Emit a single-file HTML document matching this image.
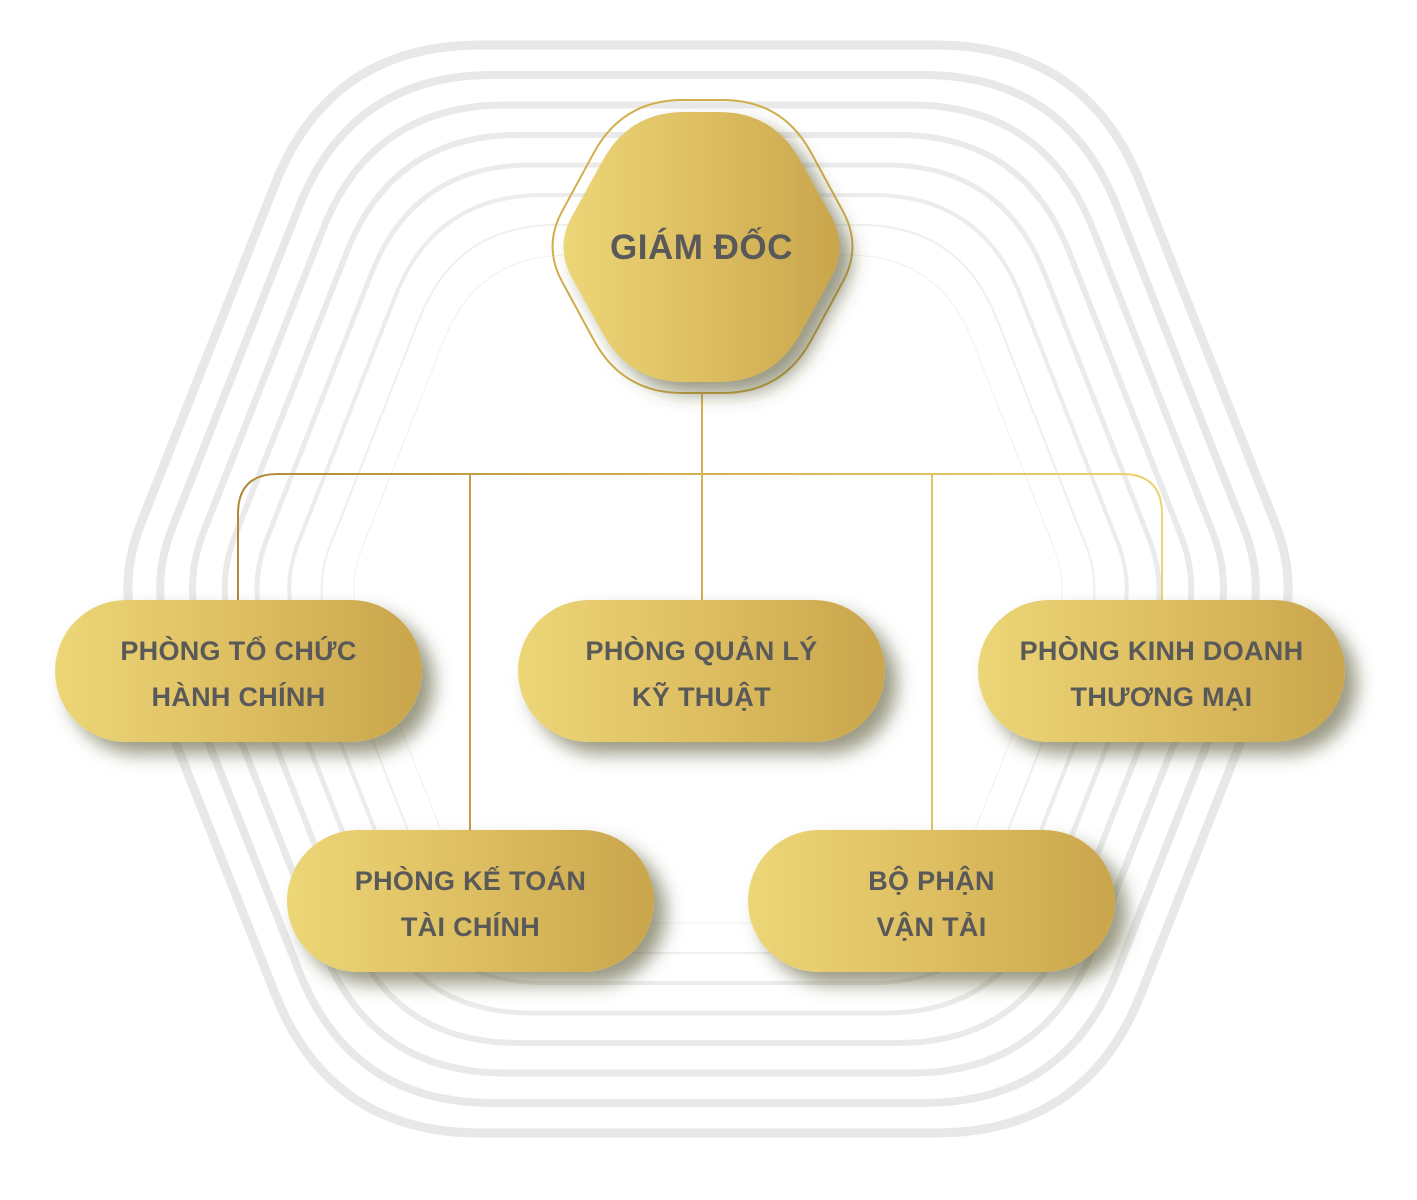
<!DOCTYPE html>
<html><head><meta charset="utf-8"><style>
html,body{margin:0;padding:0;background:#fff;}
body{width:1417px;height:1200px;position:relative;overflow:hidden;font-family:"Liberation Sans",sans-serif;}
svg{position:absolute;left:0;top:0;}
.pill{position:absolute;width:367px;height:142px;border-radius:71px;background:linear-gradient(90deg,#ecd677,#dcbc5f 55%,#c9a54c);box-shadow:12px 12px 18px rgba(70,70,30,0.55);display:flex;align-items:center;justify-content:center;text-align:center;color:#595959;font-weight:bold;font-size:27px;line-height:46px;letter-spacing:0.3px;padding-top:6px;box-sizing:border-box;}
.lbl{position:absolute;left:555px;width:293px;top:228px;text-align:center;color:#595959;font-weight:bold;font-size:35px;letter-spacing:0.5px;}
</style></head><body>
<svg id="s" width="1417" height="1200" viewBox="0 0 1417 1200">
<defs>
<linearGradient id="g" x1="0" x2="1" y1="0" y2="0"><stop offset="0" stop-color="#ecd677"/><stop offset="0.55" stop-color="#dcbc5f"/><stop offset="1" stop-color="#c9a54c"/></linearGradient>
<linearGradient id="lg" gradientUnits="userSpaceOnUse" x1="238" x2="1162" y1="0" y2="0"><stop offset="0" stop-color="#b08a3a"/><stop offset="0.5" stop-color="#d3b24f"/><stop offset="1" stop-color="#ecd46f"/></linearGradient>
<filter id="sh" x="-20%" y="-20%" width="150%" height="150%"><feDropShadow dx="12" dy="12" stdDeviation="9" flood-color="#46461e" flood-opacity="0.55"/></filter>
</defs>
<g id="rings" fill="none" stroke="#e6e6e6"></g>
<g fill="none" stroke="url(#lg)" stroke-width="2">
<path d="M702 393 V600"/>
<path d="M238 600 V514 Q238 474 278 474 H1122 Q1162 474 1162 514 V600"/>
<path d="M470 474 V830"/>
<path d="M932 474 V830"/>
</g>
<path id="hexo" fill="none" stroke="#d2ae4a" stroke-width="2"/>
<path id="hexi" fill="url(#g)" filter="url(#sh)"/>
</svg>
<div class="lbl">GIÁM ĐỐC</div>
<div class="pill" style="left:55px;top:600px">PHÒNG TỔ CHỨC<br>HÀNH CHÍNH</div>
<div class="pill" style="left:518px;top:600px">PHÒNG QUẢN LÝ<br>KỸ THUẬT</div>
<div class="pill" style="left:978px;top:600px">PHÒNG KINH DOANH<br>THƯƠNG MẠI</div>
<div class="pill" style="left:287px;top:830px">PHÒNG KẾ TOÁN<br>TÀI CHÍNH</div>
<div class="pill" style="left:748px;top:830px">BỘ PHẬN<br>VẬN TẢI</div>
<script>
function rp(pts,rs){var d="";var n=pts.length;for(var i=0;i<n;i++){var V=pts[i],P=pts[(i+n-1)%n],N=pts[(i+1)%n],r=rs[i];
var a=[P[0]-V[0],P[1]-V[1]],b=[N[0]-V[0],N[1]-V[1]];var la=Math.hypot(a[0],a[1]),lb=Math.hypot(b[0],b[1]);
var A=[V[0]+a[0]/la*r,V[1]+a[1]/la*r],B=[V[0]+b[0]/lb*r,V[1]+b[1]/lb*r];
d+=(i==0?"M":"L")+A[0].toFixed(1)+" "+A[1].toFixed(1)+" Q"+V[0]+" "+V[1]+" "+B[0].toFixed(1)+" "+B[1].toFixed(1)+" ";}return d+"Z";}
function hex(cx,cy,w,h,t){return [[cx-t,cy-h],[cx+t,cy-h],[cx+w,cy],[cx+t,cy+h],[cx-t,cy+h],[cx-w,cy]];}
var g=document.getElementById("rings");var sw=[9,8,7,6,5,4,2,1];var col=["#e8e8e8","#e8e8e8","#e9e9e9","#eaeaea","#ebebeb","#ececec","#efefef","#f0f0f0"];
for(var i=0;i<8;i++){var w=593-33*i,h=544-30*i,t=378*w/593;
var p=document.createElementNS("http://www.w3.org/2000/svg","path");
p.setAttribute("d",rp(hex(708,589,w,h,t),[150,150,70,150,150,70].map(function(r){return r*(w/593)})));
p.setAttribute("stroke-width",sw[i]);p.setAttribute("stroke",col[i]);g.appendChild(p);}
document.getElementById("hexo").setAttribute("d",rp(hex(702.5,246.5,159.5,146.5,80),[60,60,40,60,60,40]));
document.getElementById("hexi").setAttribute("d",rp(hex(701.5,247,146.5,135,72),[55,55,35,55,55,35]));
</script>
</body></html>
